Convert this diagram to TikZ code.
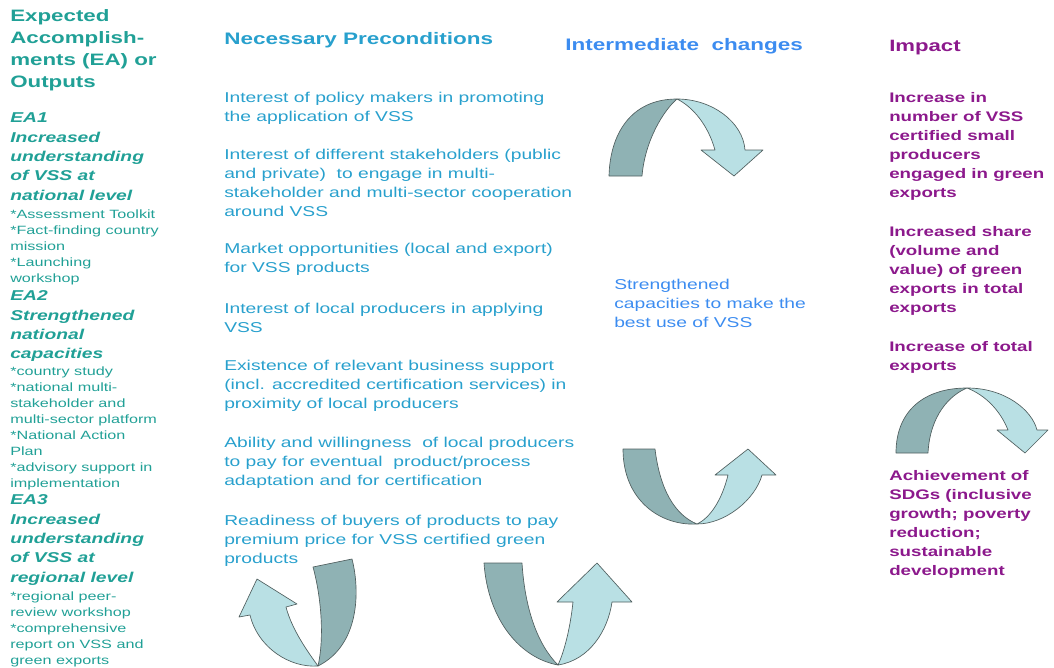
\documentclass[tikz,border=0pt]{standalone}
\usepackage{fontspec}
\setmainfont{Liberation Sans}[FakeStretch=1.35]
\definecolor{eateal}{RGB}{32,160,150}
\definecolor{precblue}{RGB}{40,160,205}
\definecolor{midblue}{RGB}{60,140,240}
\definecolor{impurple}{RGB}{140,25,140}
\definecolor{bandlo}{RGB}{143,178,180}
\definecolor{bandhi}{RGB}{185,224,228}
\definecolor{bandedge}{RGB}{80,95,95}
\begin{document}
\begin{tikzpicture}[x=0.75pt,y=-0.75pt, line join=round,
	txt/.style={anchor=north west, inner sep=0, align=left},
	eahead/.style={txt, text=eateal, font=\fontsize{12.4}{16.5}\selectfont\bfseries},
	eatitle/.style={txt, text=eateal, font=\fontsize{10.7}{14.5}\selectfont\bfseries\itshape},
	ealist/.style={txt, text=eateal, font=\fontsize{9}{12}\selectfont},
	colhead/.style={txt, font=\fontsize{12.5}{15}\selectfont\bfseries},
	prec/.style={txt, text=precblue, font=\fontsize{10.7}{14.3}\selectfont},
	imp/.style={txt, text=impurple, font=\fontsize{10.4}{14.25}\selectfont\bfseries},
	lo/.style={draw=bandedge, line width=0.5pt, fill=bandlo},
	hi/.style={draw=bandedge, line width=0.5pt, fill=bandhi}]
	\useasboundingbox (0,0) rectangle (1054,668);
	% left column: expected accomplishments
	\node[eahead] (eahdr) at (10,8.9) {Expected\\Accomplish-\\ments (EA) or\\Outputs};
	\node[eatitle] (ea1) at (10,112.7) {EA1\\Increased\\understanding\\of VSS at\\national level};
	\node[ealist] (ea1list) at (10,209.6) {*Assessment Toolkit\\*Fact-finding country\\mission\\*Launching\\workshop};
	\node[eatitle] (ea2) at (10,290.7) {EA2\\Strengthened\\national\\capacities};
	\node[ealist] (ea2list) at (10,366.6) {*country study\\*national multi-\\stakeholder and\\multi-sector platform\\*National Action\\Plan\\*advisory support in\\implementation};
	\node[eatitle] (ea3) at (10,494.7) {EA3\\Increased\\understanding\\of VSS at\\regional level};
	\node[ealist] (ea3list) at (10,591.6) {*regional peer-\\review workshop\\*comprehensive\\report on VSS and\\green exports};
	% preconditions
	\node[colhead, text=precblue] (prechdr) at (224,31.8) {Necessary Preconditions};
	\node[prec] (pc1) at (224,91.7) {Interest of policy makers in promoting\\the application of VSS};
	\node[prec] (pc2) at (224,148.7) {Interest of different stakeholders (public\\and private)\ \ to engage in multi-\\stakeholder and multi-sector cooperation\\around VSS};
	\node[prec] (pc3) at (224,243.2) {Market opportunities (local and export)\\for VSS products};
	\node[prec] (pc4) at (224,302.7) {Interest of local producers in applying\\VSS};
	\node[prec] (pc5) at (224,359.7) {Existence of relevant business support\\(incl. accredited certification services) in\\proximity of local producers};
	\node[prec] (pc6) at (224,436.7) {Ability and willingness\ \ of local producers\\to pay for eventual\ \ product/process\\adaptation and for certification};
	\node[prec] (pc7) at (224,514.7) {Readiness of buyers of products to pay\\premium price for VSS certified green\\products};
	% intermediate changes
	\node[colhead, text=midblue] (midhdr) at (565,37.8) {Intermediate\ \ changes};
	\node[prec, text=midblue] (mid) at (614,278.7) {Strengthened\\capacities to make the\\best use of VSS};
	% impact
	\node[colhead, text=impurple, font=\fontsize{12.3}{15}\selectfont\bfseries] (imphdr) at (889,39.9) {Impact};
	\node[imp] (im1) at (889,91.9) {Increase in\\number of VSS\\certified small\\producers\\engaged in green\\exports};
	\node[imp] (im2) at (889,225.9) {Increased share\\(volume and\\value) of green\\exports in total\\exports};
	\node[imp] (im3) at (889,340.9) {Increase of total\\exports};
	\node[imp] (im4) at (889,469.9) {Achievement of\\SDGs (inclusive\\growth; poverty\\reduction;\\sustainable\\development};
	% curved band arrows, two tones each
	\draw[lo] (609,176) .. controls (610,135) and (630,99) .. (677,99)
		.. controls (664,110) and (645,140) .. (642,176) -- cycle;
	\draw[hi] (677,99) .. controls (712,99) and (743,122) .. (745,150) -- (763,150) -- (734,176)
		-- (701,150) -- (715,150) .. controls (708,125) and (693,107) .. (677,99) -- cycle;
	\draw[lo] (623,449) -- (655,449) .. controls (660,490) and (675,515) .. (697,524)
		.. controls (660,526) and (623,500) .. (623,449) -- cycle;
	\draw[hi] (697,524) .. controls (725,524) and (755,500) .. (762,475) -- (776,475) -- (748,449)
		-- (715,475) -- (728,475) .. controls (722,500) and (710,518) .. (697,524) -- cycle;
	\draw[lo] (313,567) -- (352,559) .. controls (360,590) and (360,645) .. (318,666)
		.. controls (324,640) and (322,600) .. (313,567) -- cycle;
	\draw[hi] (318,666) .. controls (290,668) and (258,648) .. (250,615) -- (239,617) -- (257,579)
		-- (297,604) -- (286,607) .. controls (292,630) and (308,652) .. (318,666) -- cycle;
	\draw[lo] (484,563) -- (522,563) .. controls (525,610) and (538,645) .. (558,665)
		.. controls (520,658) and (488,620) .. (484,563) -- cycle;
	\draw[hi] (558,665) .. controls (590,660) and (608,630) .. (612,602) -- (632,602) -- (597,563)
		-- (557,602) -- (573,602) .. controls (570,630) and (564,652) .. (558,665) -- cycle;
	\draw[lo] (896,453) .. controls (896,410) and (925,388) .. (967,388)
		.. controls (950,395) and (930,415) .. (928,453) -- cycle;
	\draw[hi] (967,388) .. controls (1005,388) and (1032,410) .. (1037,430) -- (1048,430) -- (1025,453)
		-- (997,430) -- (1008,430) .. controls (1000,410) and (985,395) .. (967,388) -- cycle;
\end{tikzpicture}
\end{document}
